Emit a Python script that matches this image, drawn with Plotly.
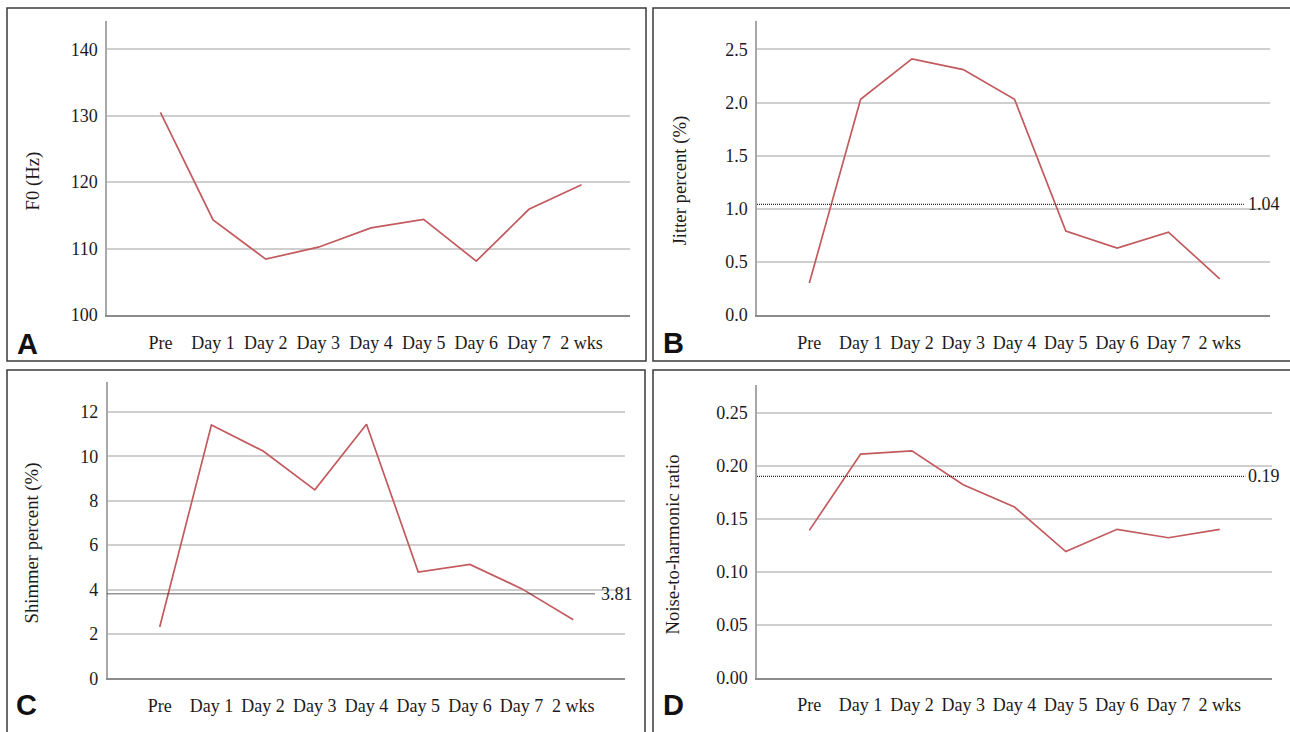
import plotly.graph_objects as go

W, H = 1290, 732

timepoints = ["Pre", "Day 1", "Day 2", "Day 3", "Day 4", "Day 5", "Day 6", "Day 7", "2 wks"]
f0_hz = [130.5, 114.3, 108.4, 110.2, 113.1, 114.4, 108.1, 115.9, 119.6]
jitter_pct = [0.30, 2.03, 2.41, 2.31, 2.03, 0.79, 0.63, 0.78, 0.34]
shimmer_pct = [2.31, 11.41, 10.24, 8.49, 11.45, 4.79, 5.13, 4.04, 2.64]
nhr = [0.139, 0.211, 0.214, 0.182, 0.161, 0.119, 0.140, 0.132, 0.140]

jitter_norm = 1.04
shimmer_norm = 3.81
nhr_norm = 0.19

y_titles = ["F0 (Hz)", "Jitter percent (%)", "Shimmer percent (%)", "Noise-to-harmonic ratio"]
panel_letters = ["A", "B", "C", "D"]

LINE = "#c25a5e"
GRID = "#cfcfcf"
TXT = "#1e1a1b"
SERIF = "Liberation Serif"


def px(x):
    return x / W


def py(y):
    return 1 - y / H


fig = go.Figure()

panels = [
    dict(y=f0_hz, yr=[100, 144.3], dt=10, xd=(107, 630), yd=(21, 319.3), xr=[-1.015, 8.92], fmt="d"),
    dict(y=jitter_pct, yr=[0, 2.77], dt=0.5, xd=(757, 1270), yd=(21, 319.3), xr=[-1.02, 8.98], fmt=".1f"),
    dict(y=shimmer_pct, yr=[0, 13.35], dt=2, xd=(107.5, 625), yd=(387.3, 687.7), xr=[-1.01, 9.0], fmt="d"),
    dict(y=nhr, yr=[0, 0.2765], dt=0.05, xd=(757, 1271.5), yd=(390, 687), xr=[-1.02, 9.01], fmt=".2f"),
]

for i, p in enumerate(panels):
    n = "" if i == 0 else str(i + 1)
    fig.add_trace(go.Scatter(
        x=timepoints, y=p["y"], mode="lines",
        line=dict(color=LINE, width=1.7),
        xaxis="x" + n, yaxis="y" + n, showlegend=False, hoverinfo="x+y",
    ))
    fig.layout["xaxis" + n] = dict(
        domain=[px(p["xd"][0]), px(p["xd"][1])],
        anchor="y" + n, type="category", range=p["xr"],
        showgrid=False, zeroline=False,
        showline=True, linecolor="#8c8c8c", linewidth=2,
        ticks="outside", ticklen=10, tickcolor="rgba(0,0,0,0)",
        tickfont=dict(family=SERIF, size=18, color=TXT),
    )
    fig.layout["yaxis" + n] = dict(
        domain=[py(p["yd"][1]), py(p["yd"][0])],
        anchor="x" + n, range=p["yr"], dtick=p["dt"], tick0=0,
        tickformat=p["fmt"],
        showgrid=True, gridcolor=GRID, gridwidth=2,
        zeroline=False,
        showline=True, linecolor="#a8a8a8", linewidth=1.5,
        ticks="outside", ticklen=4, tickcolor="rgba(0,0,0,0)",
        tickfont=dict(family=SERIF, size=18, color=TXT),
    )

# reference (normal threshold) lines
refs = [(2, jitter_norm, "1.04", 0.949, 1246), (3, shimmer_norm, "3.81", 0.942, 599), (4, nhr_norm, "0.19", 0.949, 1246)]
for k, val, lab, frac, lx in refs:
    fig.add_shape(type="line", xref=f"x{k} domain", yref=f"y{k}", x0=0, x1=frac, y0=val, y1=val,
                  line=dict(color="#2a2a2a", width=1.3, dash="1px,1px"))
    fig.add_annotation(xref="paper", yref=f"y{k}", x=px(lx), y=val, text=lab, showarrow=False,
                       xanchor="left", yanchor="middle", font=dict(family=SERIF, size=18, color=TXT))

# panel borders
borders = [(7, 8, 646, 366), (653, 8, 1300, 366), (7, 375, 645, 745), (653, 375, 1300, 745)]
for x0, y0, x1, y1 in borders:
    fig.add_shape(type="rect", xref="paper", yref="paper", x0=px(x0), x1=px(x1), y0=py(y1), y1=py(y0),
                  line=dict(color="#3a3a3a", width=1.5), fillcolor="rgba(0,0,0,0)", layer="below")

# y-axis titles
title_pos = [(33, 184), (679, 183), (32, 551), (672, 552)]
for t, (x, y) in zip(y_titles, title_pos):
    fig.add_annotation(xref="paper", yref="paper", x=px(x), y=py(y), text=t, textangle=-90, showarrow=False,
                       xanchor="center", yanchor="middle", font=dict(family=SERIF, size=18.7, color=TXT))

# panel letters
letter_pos = [(27, 349), (673, 348), (26, 715), (673, 715)]
for t, (x, y) in zip(panel_letters, letter_pos):
    fig.add_annotation(xref="paper", yref="paper", x=px(x), y=py(y), text=f"<b>{t}</b>", showarrow=False,
                       xanchor="center", yanchor="middle",
                       font=dict(family="Liberation Sans", size=29, color="#111111"))

fig.update_layout(
    width=W, height=H, margin=dict(l=0, r=0, t=0, b=0),
    paper_bgcolor="white", plot_bgcolor="white",
    showlegend=False,
)

fig.write_html(
    "out.html",
    config={"displayModeBar": False},
    post_script="document.body.style.margin='0';document.body.style.overflow='hidden';",
)
